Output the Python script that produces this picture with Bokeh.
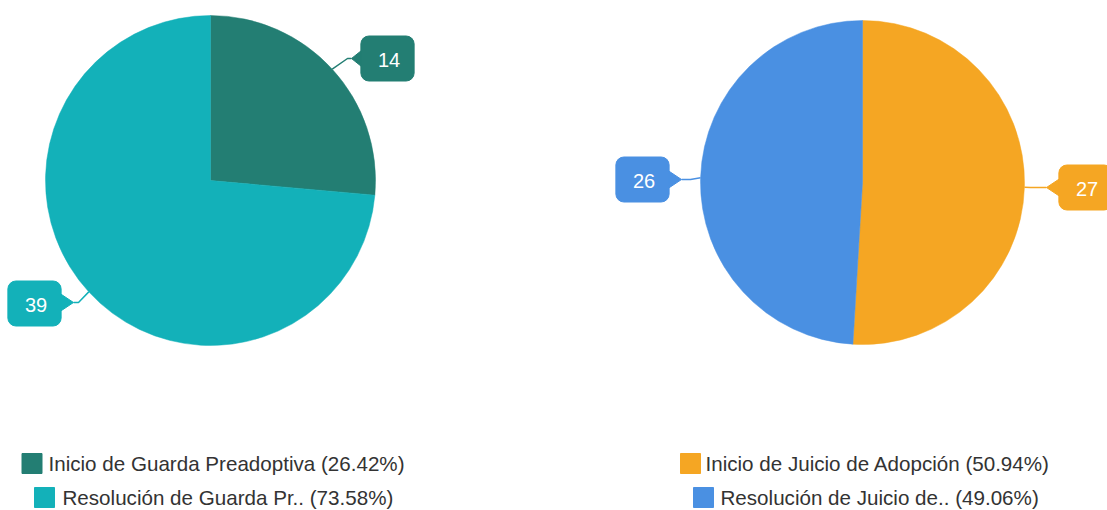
import math
from bokeh.plotting import figure
from bokeh.models import Range1d, Label
from bokeh.core.properties import value
from bokeh.embed import file_html
from bokeh.resources import INLINE

# ---- data ----
left_labels = ["Inicio de Guarda Preadoptiva", "Resolución de Guarda Pr.."]
left_values = [14, 39]
left_colors = ["#237E73", "#13B1B9"]

right_labels = ["Inicio de Juicio de Adopción", "Resolución de Juicio de.."]
right_values = [27, 26]
right_colors = ["#F5A623", "#4A90E2"]

W, H = 1107, 510
FONT = "Liberation Sans"

p = figure(width=W, height=H, output_backend="svg", toolbar_location=None,
           x_range=Range1d(0, W), y_range=Range1d(510 - H, 510),
           min_border=0)
p.axis.visible = False
p.grid.visible = False
p.outline_line_color = None
p.background_fill_color = "white"
p.border_fill_color = "white"


def sy(y):
    return 510 - y


def pie(cx, cy, r, values, colors):
    total = sum(values)
    cum = 0.0
    starts, ends, mids = [], [], []
    for v in values:
        a0 = math.pi / 2 - 2 * math.pi * cum / total
        cum += v
        a1 = math.pi / 2 - 2 * math.pi * cum / total
        starts.append(a0)
        ends.append(a1)
        mids.append((a0 + a1) / 2)
    p.wedge(x=[cx] * len(values), y=[sy(cy)] * len(values), radius=r,
            start_angle=starts, end_angle=ends, direction="clock",
            fill_color=colors, line_color=colors, line_width=0.5)
    edges = [(cx + r * math.cos(m), sy(cy) + r * math.sin(m)) for m in mids]
    return edges


def callout(text, color, edge, bend, tip, box_c, side):
    # leader line
    xs = [edge[0], bend[0], tip[0]]
    ys = [edge[1], sy(bend[1]), sy(tip[1])]
    p.line(xs, ys, line_color=color, line_width=1.5)
    # pointer notch
    bx = box_c[0] + (-25 if side == "left" else 25)
    inner = bx + (4 if side == "left" else -4)
    p.patch([tip[0], inner, inner],
            [sy(tip[1]), sy(tip[1]) + 12, sy(tip[1]) - 12],
            fill_color=color, line_color=color)
    lab = Label(x=box_c[0], y=sy(box_c[1]), text=text, text_color="white",
                text_font=FONT, text_font_size="20px",
                text_align="center", text_baseline="middle",
                background_fill_color=color, border_line_color=color,
                border_radius=8, padding=(17, 14, 17, 14))
    p.add_layout(lab)


le = pie(210, 180, 165, left_values, left_colors)
re_ = pie(862, 182, 162, right_values, right_colors)

callout(str(left_values[0]), left_colors[0], le[0], (347, 58), (351, 58), (387, 58), "left")
callout(str(left_values[1]), left_colors[1], le[1], (78, 302), (73, 302), (34, 303), "right")
callout(str(right_values[0]), right_colors[0], re_[0], (1030, 187), (1046, 187), (1085, 187), "left")
callout(str(right_values[1]), right_colors[1], re_[1], (690, 179), (681, 179), (642, 179), "right")


def legend(labels, values, colors, rows):
    total = sum(values)
    for (lab, v, c, (sqx, ty, tx)) in zip(labels, values, colors, rows):
        p.rect(x=[sqx], y=[sy(ty)], width=20, height=20, fill_color=c, line_color=c)
        p.text(x=[tx], y=[sy(ty)], text=[f"{lab} ({100 * v / total:.2f}%)"],
               text_font=value(FONT), text_font_size="20.6px", text_color="#333333",
               text_baseline="middle", text_align="left")


legend(left_labels, left_values, left_colors, [(31.5, 463, 48), (44, 497, 62)])
legend(right_labels, right_values, right_colors, [(690, 463, 705), (703, 497, 720)])

open("out.html", "w").write(file_html(p, INLINE))
